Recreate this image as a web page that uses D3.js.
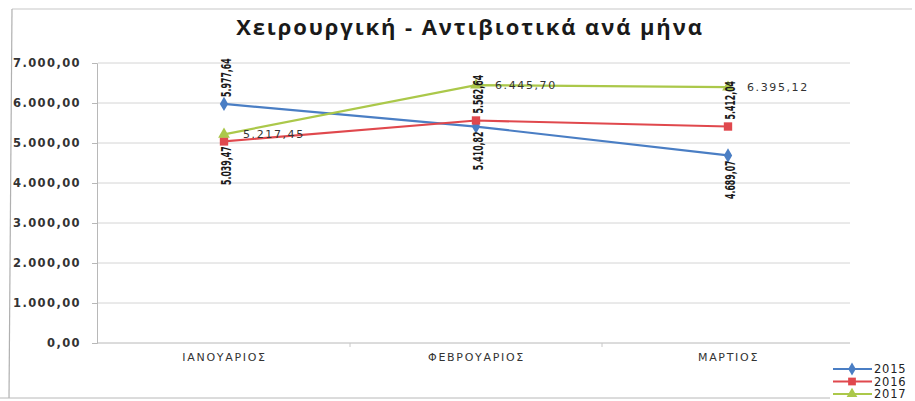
<!DOCTYPE html>
<html>
<head>
<meta charset="utf-8">
<script src="https://cdn.jsdelivr.net/npm/d3@7"></script>
<style>
  html, body { margin: 0; padding: 0; background: #fff; }
  svg { display: block; }
</style>
</head>
<body>
<svg id="chart" width="915" height="401"></svg>
<script>
const categories = ["ΙΑΝΟΥΑΡΙΟΣ", "ΦΕΒΡΟΥΑΡΙΟΣ", "ΜΑΡΤΙΟΣ"];
const seriesNames = ["2015", "2016", "2017"];
const values2015 = [5977.64, 5410.82, 4689.07];
const values2016 = [5039.47, 5562.64, 5412.04];
const values2017 = [5217.45, 6445.70, 6395.12];
const yTicks = [0, 1000, 2000, 3000, 4000, 5000, 6000, 7000];
const title = "Χειρουργική - Αντιβιοτικά ανά μήνα";

const colors = { "2015": "#4a7ec4", "2016": "#e0484d", "2017": "#abc84a" };
const series = [
  { name: "2015", values: values2015, marker: d3.symbolDiamond, labelPos: ["above", "below", "below"] },
  { name: "2016", values: values2016, marker: d3.symbolSquare, labelPos: ["below", "above", "above"] },
  { name: "2017", values: values2017, marker: d3.symbolTriangle, labelPos: ["right", "right", "right"] }
];

const fmt = v => {
  const s = d3.format(",.2f")(v);
  return s.replace(/,/g, "#").replace(/\./g, ",").replace(/#/g, ".");
};

const svg = d3.select("#chart");
const plotLeft = 98, plotRight = 854, plotTop = 63, plotBottom = 343;

// outer border (scanned chart frame)
svg.append("line").attr("x1", 12).attr("x2", 912).attr("y1", 9).attr("y2", 9)
  .attr("stroke", "#c8c8c8").attr("stroke-width", 1.2);
svg.append("line").attr("x1", 12).attr("x2", 9).attr("y1", 9).attr("y2", 398)
  .attr("stroke", "#b0b0b0").attr("stroke-width", 1.2);
svg.append("line").attr("x1", 0).attr("x2", 830).attr("y1", 398).attr("y2", 398)
  .attr("stroke", "#b8b8b8").attr("stroke-width", 1);

// title
svg.append("text")
  .attr("x", 470).attr("y", 35)
  .attr("text-anchor", "middle")
  .attr("font-family", "'Open Sans', 'Noto Sans', sans-serif")
  .attr("font-weight", "bold")
  .attr("font-size", 22)
  .attr("letter-spacing", 1.9)
  .attr("fill", "#1a1a1a")
  .text(title);

const x = d3.scalePoint().domain(categories).range([plotLeft, plotRight]).padding(0.5);
const y = d3.scaleLinear().domain([0, 7000]).range([plotBottom, plotTop]);

// gridlines
svg.append("g").selectAll("line").data(yTicks.filter(t => t > 0)).join("line")
  .attr("x1", plotLeft).attr("x2", 850)
  .attr("y1", d => y(d)).attr("y2", d => y(d))
  .attr("stroke", "#d4d4d4").attr("stroke-width", 1);

// y axis
const yAxis = svg.append("g").attr("transform", `translate(${plotLeft - 1},0)`)
  .call(d3.axisLeft(y).tickValues(yTicks).tickSize(5).tickPadding(11).tickFormat(fmt));
yAxis.select(".domain").attr("stroke", "#b8b8b8");
yAxis.selectAll(".tick line").attr("stroke", "#b8b8b8");
yAxis.selectAll(".tick text")
  .attr("font-family", "'DejaVu Sans', sans-serif")
  .attr("font-weight", "bold")
  .attr("font-size", 11.5)
  .attr("letter-spacing", 1.4)
  .attr("fill", "#333");

// x axis
const xAxis = svg.append("g").attr("transform", `translate(0,${plotBottom})`)
  .call(d3.axisBottom(x).tickSize(0).tickPadding(10));
xAxis.select(".domain").attr("d", `M${plotLeft - 1},0H850`).attr("stroke", "#b8b8b8");
xAxis.selectAll(".tick text")
  .attr("font-family", "'DejaVu Sans', sans-serif")
  .attr("font-size", 11)
  .attr("letter-spacing", 1.7)
  .attr("fill", "#333");
// category boundary ticks
const step = x.step();
svg.append("g").selectAll("line").data(categories.slice(1)).join("line")
  .attr("x1", d => x(d) - step / 2).attr("x2", d => x(d) - step / 2)
  .attr("y1", plotBottom).attr("y2", plotBottom + 4)
  .attr("stroke", "#c8c8c8");

// lines
const line = d3.line().x((d, i) => x(categories[i])).y(d => y(d));
series.forEach(s => {
  svg.append("path").datum(s.values)
    .attr("d", line)
    .attr("fill", "none")
    .attr("stroke", colors[s.name])
    .attr("stroke-width", 2.2);
});
series.forEach(s => {
  svg.append("g").selectAll("path").data(s.values).join("path")
    .attr("transform", (d, i) => `translate(${x(categories[i])},${y(d)})`)
    .attr("d", d3.symbol().type(s.marker).size(s.name === "2016" ? 70 : 60))
    .attr("fill", colors[s.name]);
});

// data labels
series.forEach(s => {
  s.values.forEach((v, i) => {
    const px = x(categories[i]) + 2, py = y(v);
    const pos = s.labelPos[i];
    if (pos === "right") {
      svg.append("text")
        .attr("x", px + 17).attr("y", py)
        .attr("dy", "0.35em")
        .attr("font-family", "'DejaVu Sans', sans-serif")
        .attr("font-size", 11)
        .attr("letter-spacing", 1.6)
        .attr("fill", "#333")
        .text(fmt(v));
    } else {
      const off = pos === "above" ? 7 : -5;
      svg.append("text")
        .attr("transform", `translate(${px},${py}) rotate(-90) translate(${off},0) scale(0.6,1)`)
        .attr("dy", "0.35em")
        .attr("text-anchor", pos === "above" ? "start" : "end")
        .attr("font-family", "'DejaVu Sans Condensed', 'DejaVu Sans', sans-serif")
        .attr("font-weight", "bold")
        .attr("font-size", 14.5)
        .attr("fill", "#1a1a1a")
        .text(fmt(v));
    }
  });
});

// legend
const legend = svg.append("g");
series.forEach((s, i) => {
  const ly = 369 + i * 12.5;
  legend.append("line").attr("x1", 833).attr("x2", 872).attr("y1", ly).attr("y2", ly)
    .attr("stroke", colors[s.name]).attr("stroke-width", 2.2);
  legend.append("path")
    .attr("transform", `translate(852,${ly})`)
    .attr("d", d3.symbol().type(s.marker).size(s.name === "2016" ? 60 : 50))
    .attr("fill", colors[s.name]);
  legend.append("text")
    .attr("x", 874).attr("y", ly).attr("dy", "0.36em")
    .attr("font-family", "'DejaVu Sans', sans-serif")
    .attr("font-size", 11.5)
    .attr("letter-spacing", 0.8)
    .attr("fill", "#222")
    .text(s.name);
});
</script>
</body>
</html>
